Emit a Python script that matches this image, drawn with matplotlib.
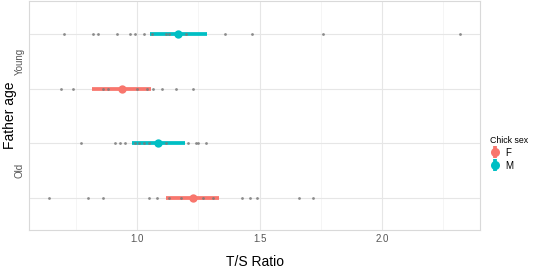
import matplotlib
matplotlib.use("Agg")
import matplotlib.pyplot as plt
from matplotlib.lines import Line2D
from matplotlib.legend_handler import HandlerTuple

plt.rcParams['font.family'] = ['Liberation Sans', 'DejaVu Sans']

# raw T/S ratios
young_m = [0.70, 0.82, 0.84, 0.92, 0.97, 0.99, 1.03, 1.06, 1.12, 1.13, 1.20, 1.36, 1.47, 1.76, 2.32]
young_f = [0.69, 0.74, 0.86, 0.88, 1.00, 1.04, 1.065, 1.10, 1.16, 1.23]
old_m = [0.77, 0.91, 0.93, 0.95, 0.99, 1.01, 1.03, 1.05, 1.12, 1.21, 1.24, 1.25, 1.28]
old_f = [0.64, 0.80, 0.86, 1.05, 1.08, 1.13, 1.18, 1.27, 1.31, 1.43, 1.46, 1.49, 1.66, 1.72]

# summary point + interval for each group
means = [1.229, 1.086, 0.939, 1.167]      # old F, old M, young F, young M
lows = [1.12, 0.98, 0.816, 1.053]
highs = [1.335, 1.196, 1.057, 1.286]
sexes = ['F', 'M', 'F', 'M']
rows = [0.75, 1.25, 1.75, 2.25]
groups = [old_f, old_m, young_f, young_m]

age_labels = ['Old', 'Young']
colors = {'F': '#F8766D', 'M': '#00BFC4'}

fig = plt.figure(figsize=(5.33, 2.70), dpi=100)
ax = fig.add_axes([0.0544, 0.148, 0.8462, 0.8483])

ax.set_xlim(0.559, 2.40)
ax.set_ylim(0.46, 2.55)

# grid
for v in [0.75, 1.25, 1.75, 2.25]:
    ax.axvline(v, color='#f2f2f2', lw=0.5, zorder=0)
for v in [1.0, 1.5, 2.0]:
    ax.axvline(v, color='#e6e6e6', lw=0.8, zorder=0)
for r in rows:
    ax.axhline(r, color='#e6e6e6', lw=0.8, zorder=0)

for vals, r, s, m, lo, hi in zip(groups, rows, sexes, means, lows, highs):
    ax.plot([lo, hi], [r, r], color=colors[s], lw=2.7, solid_capstyle='butt', zorder=2)
    ax.plot([m], [r], 'o', color=colors[s], ms=6, mec='none', zorder=3)
    ax.scatter(vals, [r] * len(vals), s=4, color='#7a7a7a', alpha=0.85, lw=0, zorder=4)

ax.set_xticks([1.0, 1.5, 2.0])
ax.set_xticklabels(['1.0', '1.5', '2.0'])
ax.set_yticks([1, 2])
ax.set_yticklabels(age_labels, rotation=90, va='center')
ax.tick_params(axis='both', length=0, labelsize=7, labelcolor='#555555', pad=3)

for sp in ax.spines.values():
    sp.set_color('#d9d9d9')
    sp.set_linewidth(0.8)

ax.set_xlabel('T/S Ratio', fontsize=10, labelpad=8)
fig.text(10 / 533, 1 - 115.5 / 270, 'Father age', fontsize=10, rotation=90,
         ha='center', va='center')

handles = []
for s in ['F', 'M']:
    bar = Line2D([], [], marker='|', ls='none', color=colors[s], ms=9, mew=2.7)
    dot = Line2D([], [], marker='o', ls='none', color=colors[s], ms=6.5, mec='none')
    handles.append((bar, dot))
fig.legend(handles, ['F', 'M'], title='Chick sex', loc='upper left',
           bbox_to_anchor=(0.911, 0.515), frameon=False, fontsize=7,
           title_fontsize=6.3, handler_map={tuple: HandlerTuple(ndivide=1)},
           handlelength=0.9, handletextpad=0.6, labelspacing=0.3,
           borderpad=0, alignment='left')

fig.savefig('out.png', dpi=100)
